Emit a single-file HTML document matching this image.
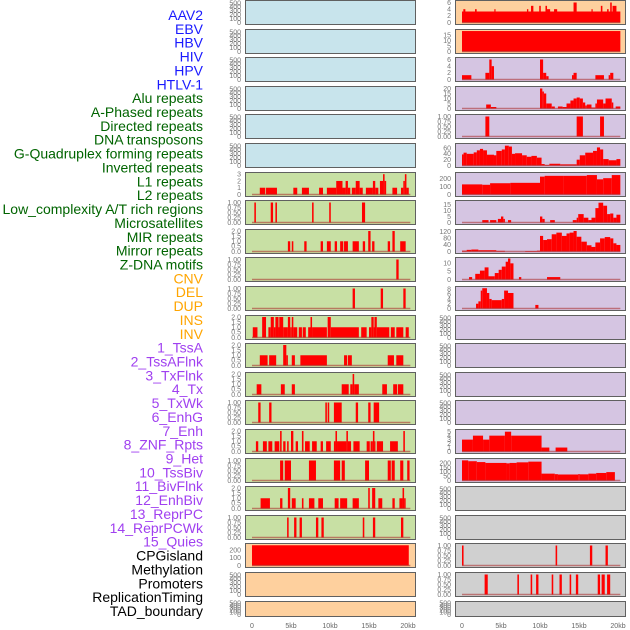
<!DOCTYPE html>
<html><head><meta charset="utf-8">
<style>
html,body{margin:0;padding:0;background:#fff;}
svg{display:block;}
</style></head>
<body>
<svg id="chart" width="630" height="630" viewBox="0 0 630 630" xmlns="http://www.w3.org/2000/svg" font-family="Liberation Sans, sans-serif">
<g id="labels"></g>
<g id="panels"></g>
<g id="xaxes"></g>
</svg>
<script>
// ---------- labels ----------
const featureLabels = ["AAV2","EBV","HBV","HIV","HPV","HTLV-1","Alu repeats","A-Phased repeats","Directed repeats","DNA transposons","G-Quadruplex forming repeats","Inverted repeats","L1 repeats","L2 repeats","Low_complexity A/T rich regions","Microsatellites","MIR repeats","Mirror repeats","Z-DNA motifs","CNV","DEL","DUP","INS","INV","1_TssA","2_TssAFlnk","3_TxFlnk","4_Tx","5_TxWk","6_EnhG","7_Enh","8_ZNF_Rpts","9_Het","10_TssBiv","11_BivFlnk","12_EnhBiv","13_ReprPC","14_ReprPCWk","15_Quies","CPGisland","Methylation","Promoters","ReplicationTiming","TAD_boundary"];
const labelGroups = ["virus","virus","virus","virus","virus","virus","repeat","repeat","repeat","repeat","repeat","repeat","repeat","repeat","repeat","repeat","repeat","repeat","repeat","sv","sv","sv","sv","sv","state","state","state","state","state","state","state","state","state","state","state","state","state","state","state","other","other","other","other","other"];

// ---------- x axis ----------
const xTickValues = [0,5,10,15,20];
const xTickLabels = ["0","5kb","10kb","15kb","20kb"];

// ---------- tick sets ----------
const ticksEmpty = [0,100,200,300,400,500];
const ticksQuarter = [0,0.25,0.5,0.75,1];
const ticksQuarterLbl = ["0.00","0.25","0.50","0.75","1.00"];
const ticksHalf = [0,0.5,1,1.5,2];
const ticksHalfLbl = ["0.0","0.5","1.0","1.5","2.0"];

// ---------- left column data: [startKb, endKb, value] ----------
const L07 = [[1.0,1.7,1],[1.8,3.2,1],[5.3,5.8,1],[6.4,7.3,1],[8.6,9.1,1],[9.6,10.8,1],[10.8,11.6,2],[11.6,12.0,1],[12.0,12.3,2],[12.3,12.6,1],[12.8,13.3,1],[13.3,13.8,2],[13.8,14.2,1],[14.6,15.5,1],[15.5,15.8,2],[15.8,16.2,1],[16.4,16.8,2],[16.8,17.0,3],[17.0,17.2,2],[18.0,18.6,1],[19.1,19.4,1],[19.4,19.6,2],[19.6,19.8,3],[19.8,20.1,1]];
const L08 = [[0.3,0.5,1],[2.4,2.7,1],[3.0,3.2,1],[7.7,7.9,1],[9.9,10.1,1],[14.1,14.5,1]];
const L09 = [[4.6,4.9,1],[5.1,5.3,1],[6.7,7.0,1],[8.8,9.1,1],[9.6,10.1,1],[10.6,10.9,1],[11.3,11.7,1],[11.8,12.3,1],[12.9,13.7,1],[14.2,14.5,1],[14.9,15.2,2],[15.4,15.7,1],[17.4,17.7,1],[18.0,18.3,2],[19.0,19.7,1]];
const L10 = [[18.5,18.8,1]];
const L11 = [[12.9,13.2,1],[16.5,16.8,1],[19.4,19.7,1]];
const L12 = [[0.1,0.7,1],[1.3,1.8,2],[2.1,2.4,1],[2.4,2.8,2],[2.8,3.0,1],[3.0,3.4,2],[3.4,3.5,1],[3.5,4.0,2],[4.0,4.6,1],[4.6,4.9,2],[4.9,5.1,1],[5.1,5.3,2],[5.3,5.8,1],[6.0,6.4,1],[6.5,6.9,1],[7.2,7.5,1],[7.5,7.7,2],[7.7,9.6,1],[9.7,10.1,2],[10.1,13.7,1],[14.0,14.7,1],[15.0,15.3,1],[15.3,15.6,2],[15.6,15.7,1],[15.7,16.0,2],[16.0,17.6,1],[17.8,18.3,1],[18.5,19.4,1],[19.7,20.1,1]];
const L13 = [[1.0,2.0,1],[2.2,3.1,1],[4.0,4.4,2],[4.4,4.6,1],[5.1,5.5,1],[6.2,9.6,1],[11.8,12.2,1],[12.3,12.8,1],[17.4,18.2,1],[18.5,19.4,1]];
const L14 = [[0.6,1.2,1],[3.7,4.2,1],[5.1,5.5,1],[11.5,12.4,1],[12.6,12.9,1],[12.9,13.1,2],[13.1,13.7,1],[16.7,17.3,1],[18.1,18.6,1],[18.7,19.4,1]];
const L15 = [[0.8,1.1,1],[2.2,2.5,1],[9.4,9.6,1],[9.7,9.9,1],[10.5,11.5,1],[13.3,13.6,1],[14.9,15.2,1],[15.6,16.3,1]];
const L16 = [[0.5,0.8,1],[1.4,1.9,1],[2.1,2.6,1],[2.9,3.5,1],[3.6,3.8,2],[4.0,4.3,1],[4.5,4.7,1],[5.0,5.3,2],[5.6,5.9,1],[6.4,6.6,2],[6.8,7.4,1],[7.7,8.3,1],[8.8,9.1,1],[9.5,10.1,1],[10.5,10.7,1],[10.7,10.9,2],[10.9,12.1,1],[12.1,12.3,2],[12.3,12.7,1],[13.0,13.8,1],[14.7,15.1,1],[15.2,15.5,1],[15.5,15.7,2],[15.7,15.8,1],[16.0,16.8,1],[17.7,18.7,1],[19.4,19.6,2]];
const L17 = [[3.6,4.0,1],[4.2,5.0,1],[7.3,8.2,1],[10.5,11.3,1],[11.5,11.9,1],[14.5,15.0,1],[17.4,17.8,1],[17.9,18.3,1],[19.0,19.4,1],[19.9,20.2,1]];
const L18 = [[1.1,2.3,1],[3.6,3.9,1],[4.6,4.9,2],[5.1,5.6,1],[6.4,6.6,1],[7.3,8.0,1],[8.5,9.1,1],[10.6,11.1,1],[11.3,12.2,1],[12.9,13.7,1],[14.9,15.1,2],[15.4,15.8,2],[16.2,16.7,1],[18.0,18.3,1],[18.9,19.3,1],[19.3,19.5,2],[19.5,19.7,1]];
const L19 = [[4.5,4.7,1],[5.4,5.7,1],[6.1,6.4,1],[8.2,8.5,1],[8.9,9.2,1],[14.2,14.4,1],[15.5,15.8,1],[19.1,19.4,1]];
const L20 = [[0,20.1,265]];

// ---------- right column data ----------
const R01 = [[0,20.3,3.3],[0.17,0.43,4],[1.67,1.88,4],[4.15,4.3,4],[8.33,8.5,4],[8.85,9.15,5],[9.9,10.1,5],[10.7,10.9,5],[10.9,11.3,4],[11.8,12.2,4],[14.3,14.7,6],[16.6,16.75,4],[17.8,18.0,5],[18.6,18.8,4],[19.0,19.2,6],[19.3,19.8,5]];
const R02 = [[0,20.3,19]];
const R03 = [[0,1.2,1.3],[3.0,3.5,2],[3.5,3.8,6],[3.8,4.1,4],[10.0,10.4,6],[10.4,10.8,2],[10.8,11.1,1],[14.1,14.3,1.3],[14.3,14.7,2],[17.1,18.2,1.3],[18.8,19.0,1.3],[19.0,19.4,2]];
const R04 = [[3.1,3.7,4],[3.7,4.4,1.5],[10.0,10.3,20],[10.3,10.5,17],[10.5,10.8,15],[10.8,11.5,5],[11.5,11.9,2],[12.3,12.9,2],[12.9,13.4,1.5],[13.4,13.9,5],[13.9,14.3,8],[14.3,14.7,10],[14.7,15.1,11],[15.1,15.5,10],[15.5,15.8,6],[15.8,16.0,3],[16.0,16.6,4],[16.6,17.1,1],[17.1,17.3,5],[17.3,18.1,9],[18.1,18.4,5],[18.4,19.2,10],[19.2,19.4,6],[19.7,20.3,2]];
const R05 = [[3.0,3.5,1],[14.7,15.5,1],[17.7,18.2,1]];
const R06 = [[0,0.2,38],[0.2,0.6,44],[0.6,1.5,40],[1.5,1.9,45],[1.9,2.3,52],[2.3,2.7,57],[2.7,3.2,52],[3.2,4.1,37],[4.1,4.4,35],[4.4,5.1,50],[5.1,5.5,55],[5.5,6.0,68],[6.0,6.4,65],[6.4,6.8,40],[6.8,7.7,42],[7.7,8.3,35],[8.3,8.9,30],[8.9,9.6,33],[9.6,10.2,27],[10.2,10.6,5],[10.6,11.2,2],[11.2,12.6,6],[12.6,14.7,4],[14.7,15.1,20],[15.1,15.8,35],[15.8,16.8,44],[16.8,17.3,50],[17.3,17.7,62],[17.7,18.1,55],[18.1,18.8,22],[18.8,19.8,18],[19.8,20.3,22]];
const R07 = [[0,2.6,130],[2.6,3.6,125],[3.6,6.2,145],[6.2,10.0,150],[10.0,10.6,230],[10.6,13.0,240],[13.0,16.0,240],[16.0,17.3,250],[17.3,18.1,195],[18.1,19.2,210],[19.2,20.3,250]];
const R08 = [[2.6,3.4,2],[3.6,4.4,2],[4.6,5.0,3],[5.0,5.3,5],[5.3,5.5,3],[5.9,6.3,2],[10.0,10.3,5],[10.3,10.6,3],[11.3,11.9,2],[14.2,14.7,2],[14.7,14.9,4],[14.9,15.6,7],[15.6,16.2,4],[16.2,16.6,2],[16.6,17.1,4],[17.1,17.5,12],[17.5,18.1,16.5],[18.1,18.6,14],[18.6,19.0,7],[19.0,19.4,7.5],[19.4,19.8,4],[19.8,20.3,6.5]];
const R09 = [[0,0.6,5],[0.6,1.2,10],[1.2,2.1,12],[2.1,4.4,8],[4.4,5.5,4],[8.1,9.6,3],[9.6,10.0,5],[10.0,10.4,95],[10.4,10.9,70],[10.9,11.5,75],[11.5,12.1,105],[12.1,12.8,115],[12.8,13.4,95],[13.4,13.8,110],[13.8,14.3,115],[14.3,14.7,125],[14.7,15.3,90],[15.3,16.0,60],[16.0,16.6,38],[16.6,17.1,28],[17.1,17.7,55],[17.7,18.3,80],[18.3,19.0,88],[19.0,19.4,80],[19.4,19.8,50],[19.8,20.3,40]];
const R10 = [[0.9,1.3,1.5],[1.7,2.3,3.5],[2.3,2.9,5.5],[2.9,3.4,7.5],[3.4,4.2,2],[4.2,4.7,4],[4.7,5.1,6],[5.1,5.6,8],[5.6,5.9,11],[5.9,6.2,13],[6.2,6.6,10],[7.3,7.6,1.5],[10.9,12.6,1.5]];
const R11 = [[1.8,2.1,2],[2.1,2.4,3],[2.4,2.6,7.5],[2.6,3.2,8.5],[3.2,3.5,6.5],[3.5,3.8,4],[3.8,5.1,3.5],[5.1,5.4,4],[5.4,5.9,7.5],[5.9,6.6,6.5],[9.4,9.8,1.5]];
const R16 = [[0,1.4,3],[1.4,2.7,4],[2.7,3.5,3],[3.5,5.5,4],[5.5,6.3,5],[6.3,10.2,4],[10.2,11.2,1],[12.0,13.5,1]];
const R17 = [[0,0.8,235],[0.8,1.9,225],[1.9,3.0,215],[3.0,5.7,205],[5.7,6.1,200],[6.1,7.0,205],[7.0,8.5,212],[8.5,10.2,220],[10.2,11.9,80],[11.9,12.3,74],[12.3,14.9,70],[14.9,15.1,75],[15.1,16.2,72],[16.2,17.2,80],[17.2,18.5,88],[18.5,19.6,98]];
const R20 = [[0,0.2,1],[12.0,12.2,1],[16.4,16.7,1],[18.4,18.7,1]];
const R21 = [[2.9,3.3,1],[7.1,7.3,1],[8.8,9.0,1],[9.5,9.8,1],[11.5,11.7,1],[12.5,12.8,1],[13.8,14.0,1],[14.6,14.9,1],[17.4,17.7,1],[17.9,18.3,1],[18.6,19.0,1]];

// ---------- panel definitions ----------
const leftPanels = [
 {n:"aav2",bg:"blue",d:null,t:ticksEmpty,max:540},
 {n:"ebv",bg:"blue",d:null,t:ticksEmpty,max:540},
 {n:"hbv",bg:"blue",d:null,t:ticksEmpty,max:540},
 {n:"hiv",bg:"blue",d:null,t:ticksEmpty,max:540},
 {n:"hpv",bg:"blue",d:null,t:ticksEmpty,max:540},
 {n:"htlv1",bg:"blue",d:null,t:ticksEmpty,max:540},
 {n:"alu",bg:"green",d:L07,t:[0,1,2,3],max:3.1},
 {n:"aphased",bg:"green",d:L08,t:ticksQuarter,tl:ticksQuarterLbl,max:1.05},
 {n:"directed",bg:"green",d:L09,t:ticksHalf,tl:ticksHalfLbl,max:2.05},
 {n:"dna-transposons",bg:"green",d:L10,t:ticksQuarter,tl:ticksQuarterLbl,max:1.05},
 {n:"g-quadruplex",bg:"green",d:L11,t:ticksQuarter,tl:ticksQuarterLbl,max:1.05},
 {n:"inverted",bg:"green",d:L12,t:ticksHalf,tl:ticksHalfLbl,max:2.05},
 {n:"l1",bg:"green",d:L13,t:ticksHalf,tl:ticksHalfLbl,max:2.05},
 {n:"l2",bg:"green",d:L14,t:ticksHalf,tl:ticksHalfLbl,max:2.05},
 {n:"low-complexity",bg:"green",d:L15,t:ticksQuarter,tl:ticksQuarterLbl,max:1.05},
 {n:"microsatellites",bg:"green",d:L16,t:ticksHalf,tl:ticksHalfLbl,max:2.05},
 {n:"mir",bg:"green",d:L17,t:ticksQuarter,tl:ticksQuarterLbl,max:1.05},
 {n:"mirror",bg:"green",d:L18,t:ticksHalf,tl:ticksHalfLbl,max:2.05},
 {n:"z-dna",bg:"green",d:L19,t:ticksQuarter,tl:ticksQuarterLbl,max:1.05},
 {n:"cpgisland",bg:"orange",d:L20,t:[0,100,200],max:275},
 {n:"promoters",bg:"orange",d:null,t:ticksEmpty,max:540},
 {n:"tad",bg:"orange",d:null,t:ticksEmpty,max:540}
];
const rightPanels = [
 {n:"r1",bg:"orange",d:R01,t:[0,2,4,6],max:6.3},
 {n:"r2",bg:"orange",d:R02,t:[0,5,10,15],max:19.5},
 {n:"r3",bg:"purple",d:R03,t:[0,2,4,6],max:6.3},
 {n:"r4",bg:"purple",d:R04,t:[0,5,10,15,20],max:21},
 {n:"r5",bg:"purple",d:R05,t:ticksQuarter,tl:ticksQuarterLbl,max:1.05},
 {n:"r6",bg:"purple",d:R06,t:[0,20,40,60],max:72},
 {n:"r7",bg:"purple",d:R07,t:[0,100,200],max:270},
 {n:"r8",bg:"purple",d:R08,t:[0,5,10,15],max:17.5},
 {n:"r9",bg:"purple",d:R09,t:[0,40,80,120],max:128},
 {n:"r10",bg:"purple",d:R10,t:[0,5,10],max:13},
 {n:"r11",bg:"purple",d:R11,t:[0,2,4,6,8],max:8.8},
 {n:"r12",bg:"purple",d:null,t:ticksEmpty,max:540},
 {n:"r13",bg:"purple",d:null,t:ticksEmpty,max:540},
 {n:"r14",bg:"purple",d:null,t:ticksEmpty,max:540},
 {n:"r15",bg:"purple",d:null,t:ticksEmpty,max:540},
 {n:"r16",bg:"purple",d:R16,t:[0,1,2,3,4,5],max:5.3},
 {n:"r17",bg:"purple",d:R17,t:[0,50,100,150,200],max:245},
 {n:"r18",bg:"grey",d:null,t:ticksEmpty,max:540},
 {n:"r19",bg:"grey",d:null,t:ticksEmpty,max:540},
 {n:"r20",bg:"grey",d:R20,t:ticksQuarter,tl:ticksQuarterLbl,max:1.05},
 {n:"r21",bg:"grey",d:R21,t:ticksQuarter,tl:ticksQuarterLbl,max:1.05},
 {n:"r22",bg:"grey",d:null,t:ticksEmpty,max:540}
];

const NS = "http://www.w3.org/2000/svg";
const bgColors = {blue:"#c8e4ec",green:"#c8e0a4",orange:"#fed09e",purple:"#d5c5e2",grey:"#d0d0d0"};
const labelColors = {virus:"#1a1aff",repeat:"#006400",sv:"#ffa500",state:"#a040f0",other:"#000000"};
function mk(tag, attrs, parent){const e=document.createElementNS(NS,tag);for(const k in attrs)e.setAttribute(k,attrs[k]);parent.appendChild(e);return e;}

// labels
const lg = document.getElementById('labels');
featureLabels.forEach((t,i)=>{
  const e = mk('text',{x:203,y:(15+i*13.86+5).toFixed(1),'text-anchor':'end','font-size':'14',fill:labelColors[labelGroups[i]]},lg);
  
  
  e.textContent = t;
});

// panels
const pg = document.getElementById('panels');
function drawPanel(p, i, colX, col){
  const top = Math.round(i*28.6), h = (i===21?16:25);
  const bottom = top + h;
  const w = 171;
  const xs = kb => colX + 7 + kb*7.8;
  const y0 = bottom - 2.5, y1 = top + 1.5;
  const ys = v => y0 - (v/p.max)*(y0-y1);
  const g = mk('g',{},pg);
  
  
  mk('rect',{x:colX,y:top,width:w,height:h,fill:bgColors[p.bg]},g);
  if(p.d){
    p.d.forEach(s=>{
      const r = mk('rect',{x:xs(s[0]).toFixed(2),y:ys(s[2]).toFixed(2),width:Math.max(1,xs(s[1])-xs(s[0])).toFixed(2),height:(y0-ys(s[2])).toFixed(2),fill:"#ff0000"},g);
      
      
    });
    const bl = mk('line',{x1:xs(0),x2:xs(20.3),y1:y0,y2:y0,stroke:"rgba(170,40,40,0.55)","stroke-width":1.5},g);
    
    
  }
  mk('rect',{x:colX+0.5,y:top+0.5,width:w-1,height:h-1,fill:"none",stroke:"#606060","stroke-width":1},g);
  p.t.forEach((tv,k)=>{
    const ty = ys(tv);
    if(ty < top-3) return;
    const lbl = p.tl ? p.tl[k] : String(tv);
    const e = mk('text',{x:colX-4,y:(ty+2.3).toFixed(1),'text-anchor':'end','font-size':'7',fill:"#777"},g);
    
    
    e.textContent = lbl;
  });
}
leftPanels.forEach((p,i)=>drawPanel(p,i,245,'left'));
rightPanels.forEach((p,i)=>drawPanel(p,i,455,'right'));

// x axes
const xg = document.getElementById('xaxes');
[245,455].forEach((cx,ci)=>{
  xTickValues.forEach((v,k)=>{
    const e = mk('text',{x:(cx+7+v*7.8).toFixed(1),y:628,'text-anchor':'middle','font-size':'7',fill:"#666"},xg);
    
    
    e.textContent = xTickLabels[k];
  });
});
</script>
</body></html>
